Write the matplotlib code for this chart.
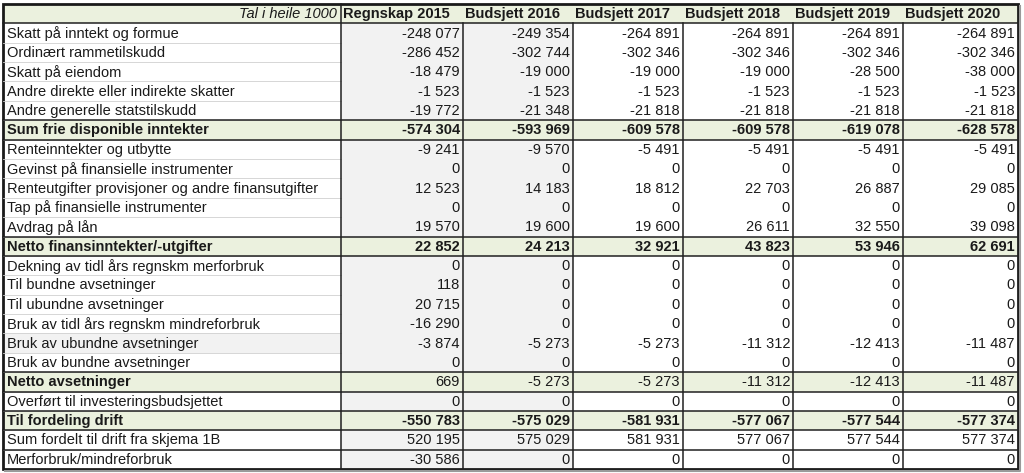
#!/usr/bin/env python
'''
Budget table: frie disponible inntekter, finans, avsetninger (Tal i heile 1000)
'''

import matplotlib as mpl
if __name__ == '__main__': mpl.use('Agg')
import matplotlib.pyplot as plt
from matplotlib.patches import Rectangle


ROW_LABELS = ['Skatt på inntekt og formue',
              'Ordinært rammetilskudd',
              'Skatt på eiendom',
              'Andre direkte eller indirekte skatter',
              'Andre generelle statstilskudd',
              'Sum frie disponible inntekter',
              'Renteinntekter og utbytte',
              'Gevinst på finansielle instrumenter',
              'Renteutgifter provisjoner og andre finansutgifter',
              'Tap på finansielle instrumenter',
              'Avdrag på lån',
              'Netto finansinntekter/-utgifter',
              'Dekning av tidl års regnskm merforbruk',
              'Til bundne avsetninger',
              'Til ubundne avsetninger',
              'Bruk av tidl års regnskm mindreforbruk',
              'Bruk av ubundne avsetninger',
              'Bruk av bundne avsetninger',
              'Netto avsetninger',
              'Overført til investeringsbudsjettet',
              'Til fordeling drift',
              'Sum fordelt til drift fra skjema 1B',
              'Merforbruk/mindreforbruk']

COL_HEADERS = ['Regnskap 2015', 'Budsjett 2016', 'Budsjett 2017',
               'Budsjett 2018', 'Budsjett 2019', 'Budsjett 2020']

regnskap_2015 = [-248077, -286452, -18479, -1523, -19772, -574304,
                 -9241, 0, 12523, 0, 19570, 22852,
                 0, 118, 20715, -16290, -3874, 0, 669,
                 0, -550783, 520195, -30586]
budsjett_2016 = [-249354, -302744, -19000, -1523, -21348, -593969,
                 -9570, 0, 14183, 0, 19600, 24213,
                 0, 0, 0, 0, -5273, 0, -5273,
                 0, -575029, 575029, 0]
budsjett_2017 = [-264891, -302346, -19000, -1523, -21818, -609578,
                 -5491, 0, 18812, 0, 19600, 32921,
                 0, 0, 0, 0, -5273, 0, -5273,
                 0, -581931, 581931, 0]
budsjett_2018 = [-264891, -302346, -19000, -1523, -21818, -609578,
                 -5491, 0, 22703, 0, 26611, 43823,
                 0, 0, 0, 0, -11312, 0, -11312,
                 0, -577067, 577067, 0]
budsjett_2019 = [-264891, -302346, -28500, -1523, -21818, -619078,
                 -5491, 0, 26887, 0, 32550, 53946,
                 0, 0, 0, 0, -12413, 0, -12413,
                 0, -577544, 577544, 0]
budsjett_2020 = [-264891, -302346, -38000, -1523, -21818, -628578,
                 -5491, 0, 29085, 0, 39098, 62691,
                 0, 0, 0, 0, -11487, 0, -11487,
                 0, -577374, 577374, 0]

# rows (0-based in ROW_LABELS) that are subtotal rows
SUM_ROWS = [5, 11, 18, 20]
BOLD_VALUE_ROWS = [5, 11, 20]

GREEN = '#ebf1de'
GREY = '#f2f2f2'
FONT = 'Liberation Sans'
FS = 10.5

# layout in pixels
COL_EDGES = [3, 341, 463, 573, 683, 793, 903, 1018]
TOP, BOTTOM = 4, 469


def fmt(v):
    return '{:,}'.format(v).replace(',', ' ')


def main():
    fig = plt.figure(figsize=(10.24, 4.73), dpi=100)
    ax = fig.add_axes([0, 0, 1, 1])
    ax.set_xlim(0, 1024)
    ax.set_ylim(473, 0)
    ax.axis('off')

    columns = [regnskap_2015, budsjett_2016, budsjett_2017,
               budsjett_2018, budsjett_2019, budsjett_2020]
    nrows = len(ROW_LABELS) + 1
    rh = (BOTTOM - TOP) / nrows
    left, right = COL_EDGES[0], COL_EDGES[-1]

    def ytop(i):
        return TOP + i * rh

    # backgrounds
    ax.add_patch(Rectangle((left, ytop(0)), right - left, rh, fc=GREEN, ec='none'))
    for r in range(len(ROW_LABELS)):
        i = r + 1
        if r in SUM_ROWS:
            ax.add_patch(Rectangle((left, ytop(i)), right - left, rh, fc=GREEN, ec='none'))
            continue
        ax.add_patch(Rectangle((COL_EDGES[1], ytop(i)), COL_EDGES[3] - COL_EDGES[1], rh,
                               fc=GREY, ec='none'))
        if ROW_LABELS[r] == 'Bruk av ubundne avsetninger':
            ax.add_patch(Rectangle((left, ytop(i)), COL_EDGES[1] - left, rh,
                                   fc=GREY, ec='none'))

    # faint row lines in label column
    for i in range(2, nrows):
        ax.plot([left, COL_EDGES[1]], [ytop(i), ytop(i)], color='#d0d0d0', lw=0.6)

    # black horizontal rules
    rules = {1}
    for r in SUM_ROWS:
        rules.update([r + 1, r + 2])
    rules.update([len(ROW_LABELS) - 1, len(ROW_LABELS)])
    for i in sorted(rules):
        ax.plot([left, right], [ytop(i), ytop(i)], color='#202020', lw=1.1)

    # vertical rules (no inner verticals in header except after label column)
    ax.plot([COL_EDGES[1], COL_EDGES[1]], [TOP, BOTTOM], color='#202020', lw=1.1)
    for x in COL_EDGES[2:-1]:
        ax.plot([x, x], [ytop(1), BOTTOM], color='#202020', lw=1.1)

    # outer border with a slight shadow
    ax.plot([left + 2, right + 2, right + 2], [BOTTOM + 2, BOTTOM + 2, TOP + 2],
            color='#9a9a9a', lw=1.5)
    ax.add_patch(Rectangle((left, TOP), right - left, BOTTOM - TOP, fc='none',
                           ec='#1a1a1a', lw=2.0))

    # header
    yc = ytop(0) + rh / 2
    ax.text(COL_EDGES[1] - 4, yc, 'Tal i heile 1000', ha='right', va='center',
            fontsize=FS, style='italic', family=FONT, color='#1a1a1a')
    for c, h in enumerate(COL_HEADERS):
        ax.text(COL_EDGES[c + 1] + 2, yc, h, ha='left', va='center',
                fontsize=FS, weight='bold', family=FONT, color='#1a1a1a')

    # body
    for r, lab in enumerate(ROW_LABELS):
        yc = ytop(r + 1) + rh / 2 + 0.5
        ax.text(left + 4, yc, lab, ha='left', va='center', fontsize=FS, family=FONT,
                weight='bold' if r in SUM_ROWS else 'normal', color='#1a1a1a')
        for c, col in enumerate(columns):
            ax.text(COL_EDGES[c + 2] - 3, yc, fmt(col[r]), ha='right', va='center',
                    fontsize=FS, family=FONT, color='#1a1a1a',
                    weight='bold' if r in BOLD_VALUE_ROWS else 'normal')

    return fig


fig = main()
fig.savefig('out.png', dpi=100)
